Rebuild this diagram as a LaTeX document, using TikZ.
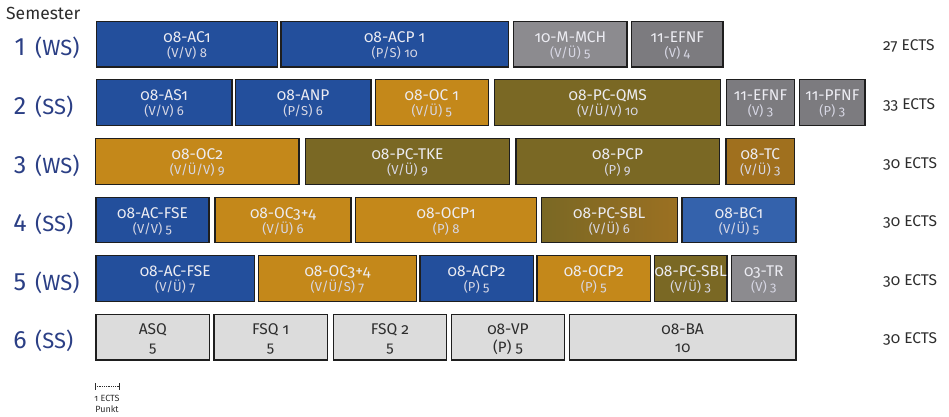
\documentclass[tikz,border=0pt]{standalone}
\usepackage{fontspec}
\setmainfont{Fira Sans}[Numbers=OldStyle]
\newfontfamily\liningfont{Fira Sans}[Numbers=Lining]
\definecolor{modblue}{RGB}{35,79,156}
\definecolor{modblueL}{RGB}{52,98,172}
\definecolor{ochre}{RGB}{196,136,26}
\definecolor{olive}{RGB}{122,104,36}
\definecolor{brownish}{RGB}{160,112,30}
\definecolor{sblright}{RGB}{155,112,34}
\definecolor{grayA}{RGB}{140,139,143}
\definecolor{grayB}{RGB}{124,123,127}
\definecolor{lightg}{RGB}{220,220,220}
\definecolor{boxline}{RGB}{30,30,30}
\definecolor{boxtext}{RGB}{236,236,242}
\definecolor{subtext}{RGB}{215,215,228}
\definecolor{darktext}{RGB}{45,45,45}
\definecolor{semblue}{RGB}{43,63,133}
\tikzset{
  modbox/.style={draw=boxline, line width=1.1pt, inner sep=0pt, rectangle},
  ttl/.style={text=boxtext, font=\fontsize{15.5}{16}\selectfont, inner sep=0pt, anchor=base},
  subt/.style={text=subtext, font=\fontsize{13}{14}\selectfont, inner sep=0pt, anchor=base},
  ttldark/.style={text=darktext, font=\fontsize{15.5}{16}\selectfont, inner sep=0pt, anchor=base},
  subdark/.style={text=darktext, font=\fontsize{15}{16}\selectfont, inner sep=0pt, anchor=base},
  semnum/.style={text=semblue, font=\liningfont\fontsize{25}{26}\selectfont, inner sep=0pt, anchor=base},
  semtxt/.style={text=semblue, font=\fontsize{22}{23}\selectfont, inner sep=0pt, anchor=base west},
  ects/.style={text=darktext, font=\fontsize{15.5}{16}\selectfont, inner sep=0pt, anchor=base west},
  small/.style={text=darktext, font=\fontsize{9}{10}\selectfont, inner sep=0pt, anchor=base},
}
% #1 fill options, #2 name, #3 x1, #4 x2, #5 row, #6 title, #7 sub
\newcommand\modul[7][]{%
  \pgfmathsetmacro\mxa{#3}%
  \pgfmathsetmacro\mxb{#4}%
  \pgfmathsetmacro\myt{21.3+(#5-1)*58.6}%
  \pgfmathsetmacro\mw{\mxb-\mxa}%
  \pgfmathsetmacro\mcx{(\mxa+\mxb)/2}%
  \pgfmathsetmacro\mcy{\myt+22.85}%
  \node[modbox,#1,minimum width=\mw pt,minimum height=45.7pt] (#2) at (\mcx,\mcy) {};
  \node[ttl] (#2-t) at ([yshift=-21.5pt]#2.north) {#6};
  \node[subt] (#2-s) at ([yshift=-36.5pt]#2.north) {#7};
}
\newcommand\modulsix[5]{%
  \pgfmathsetmacro\mxa{#2}%
  \pgfmathsetmacro\mxb{#3}%
  \pgfmathsetmacro\myt{21.3+5*58.6}%
  \pgfmathsetmacro\mw{\mxb-\mxa}%
  \pgfmathsetmacro\mcx{(\mxa+\mxb)/2}%
  \pgfmathsetmacro\mcy{\myt+22.85}%
  \node[modbox,fill=lightg,minimum width=\mw pt,minimum height=45.7pt] (#1) at (\mcx,\mcy) {};
  \node[ttldark] (#1-t) at ([yshift=-21pt]#1.north) {#4};
  \node[subdark] (#1-s) at ([yshift=-39pt]#1.north) {#5};
}
\newcommand\semrow[4]{% #1 row, #2 digit, #3 (WS), #4 ECTS
  \pgfmathsetmacro\myt{21.3+(#1-1)*58.6}%
  \node[semnum] (sem#1n) at (20,\myt+34.5) {#2};
  \node[semtxt] (sem#1t) at (35,\myt+34.5) {#3};
  \node[ects] (ects#1) at (883,\myt+29.6) {#4 ECTS};
}
\begin{document}
\begin{tikzpicture}[x=1pt,y=-1pt]
\useasboundingbox (0,0) rectangle (949,417);
\node[text=darktext, font=\fontsize{17.5}{18}\selectfont, inner sep=0pt, anchor=base west] (semester) at (6,20) {Semester};
\semrow{1}{1}{(WS)}{27}
\semrow{2}{2}{(SS)}{33}
\semrow{3}{3}{(WS)}{30}
\semrow{4}{4}{(SS)}{30}
\semrow{5}{5}{(WS)}{30}
\semrow{6}{6}{(SS)}{30}
% Row 1
\modul[fill=modblue]{ac1}{96.3}{277.7}{1}{08-AC1}{(V/V) 8}
\modul[fill=modblue]{acp1}{281}{508.3}{1}{08-ACP 1}{(P/S) 10}
\modul[fill=grayA]{mch}{513.7}{627}{1}{10-M-MCH}{(V/Ü) 5}
\modul[fill=grayB]{efnfa}{631.7}{723}{1}{11-EFNF}{(V) 4}
% Row 2
\modul[fill=modblue]{as1}{96.3}{232}{2}{08-AS1}{(V/V) 6}
\modul[fill=modblue]{anp}{235.3}{371}{2}{08-ANP}{(P/S) 6}
\modul[fill=ochre]{oc1}{375.3}{488.3}{2}{08-OC 1}{(V/Ü) 5}
\modul[fill=olive]{qms}{494.7}{720.7}{2}{08-PC-QMS}{(V/Ü/V) 10}
\modul[fill=grayB]{efnfb}{726.3}{794.7}{2}{11-EFNF}{(V) 3}
\modul[fill=grayB]{pfnf}{799.7}{865}{2}{11-PFNF}{(P) 3}
% Row 3
\modul[fill=ochre]{oc2}{95.7}{299}{3}{08-OC2}{(V/Ü/V) 9}
\modul[fill=olive]{tke}{305.7}{509.3}{3}{08-PC-TKE}{(V/Ü) 9}
\modul[fill=olive]{pcp}{516}{719.3}{3}{08-PCP}{(P) 9}
\modul[fill=brownish]{tc}{726}{794.7}{3}{08-TC}{(V/Ü) 3}
% Row 4
\modul[fill=modblue]{fsea}{96}{209}{4}{08-AC-FSE}{(V/V) 5}
\modul[fill=ochre]{oc34a}{215}{351}{4}{08-OC3+4}{(V/Ü) 6}
\modul[fill=ochre]{ocp1}{355.7}{536.7}{4}{08-OCP1}{(P) 8}
\modul[left color=olive,right color=sblright]{sbla}{541.3}{677.3}{4}{08-PC-SBL}{(V/Ü) 6}
\modul[fill=modblueL]{bc1}{682}{796}{4}{08-BC1}{(V/Ü) 5}
% Row 5
\modul[fill=modblue]{fseb}{96}{254.3}{5}{08-AC-FSE}{(V/Ü) 7}
\modul[fill=ochre]{oc34b}{258.3}{416.7}{5}{08-OC3+4}{(V/Ü/S) 7}
\modul[fill=modblue]{acp2}{420}{533.3}{5}{08-ACP2}{(P) 5}
\modul[fill=ochre]{ocp2}{537}{650.7}{5}{08-OCP2}{(P) 5}
\modul[fill=olive]{sblb}{654.3}{727}{5}{08-PC-SBL}{(V/Ü) 3}
\modul[fill=grayA]{tr}{731.7}{796}{5}{03-TR}{(V) 3}
% Row 6
\modulsix{asq}{96}{209.7}{ASQ}{5}
\modulsix{fsq1}{214}{327.3}{FSQ 1}{5}
\modulsix{fsq2}{333.3}{446.7}{FSQ 2}{5}
\modulsix{vp}{451.3}{564.7}{08-VP}{(P) 5}
\modulsix{ba}{569.3}{796}{08-BA}{10}
% scale bar
\coordinate (sbl) at (95,386.7);
\coordinate (sbr) at (119,386.7);
\draw[darktext, line width=0.8pt] ([yshift=3.5pt]sbl) -- ([yshift=-3.5pt]sbl);
\draw[darktext, line width=0.8pt] ([yshift=3.5pt]sbr) -- ([yshift=-3.5pt]sbr);
\draw[darktext, line width=0.8pt, densely dotted] (sbl) -- (sbr);
\node[small] (sb1) at (107,401) {1 ECTS};
\node[small] (sb2) at (107,412) {Punkt};
\end{tikzpicture}
\end{document}
